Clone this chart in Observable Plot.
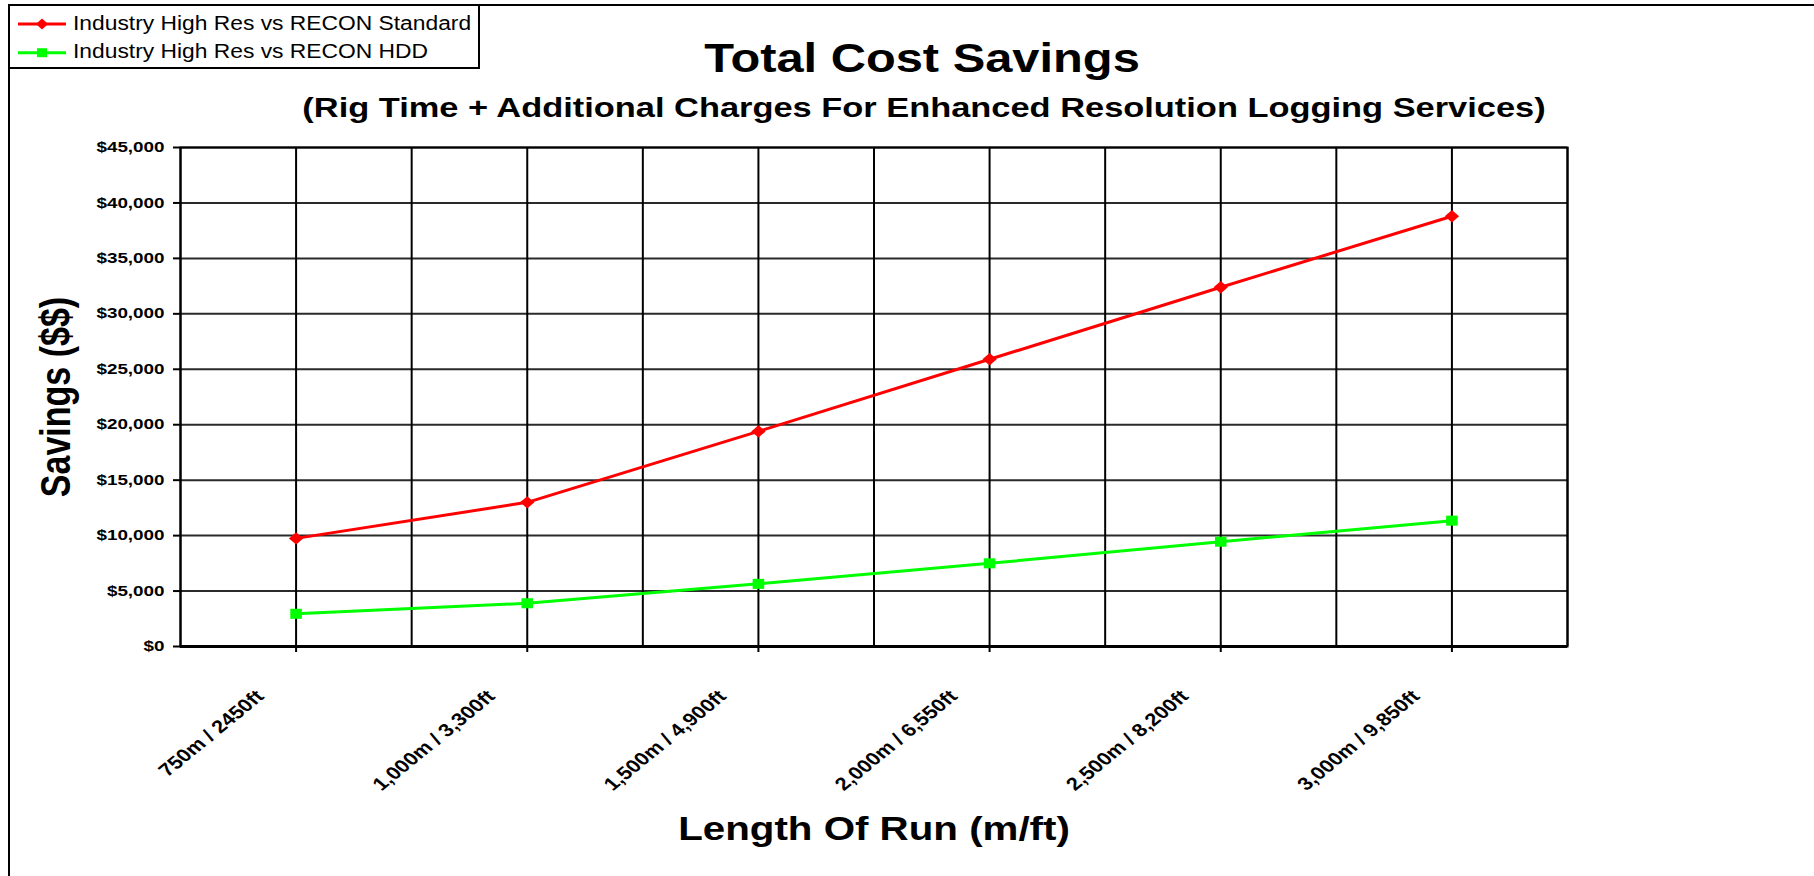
<!DOCTYPE html>
<html><head><meta charset="utf-8">
<script src="https://cdn.jsdelivr.net/npm/d3@7"></script>
<script src="https://cdn.jsdelivr.net/npm/@observablehq/plot@0.6"></script>
<style>
html,body{margin:0;padding:0;background:#fff;}
body{width:1814px;height:876px;position:relative;overflow:hidden;font-family:"Liberation Sans",Arial,sans-serif;}
#chart{position:absolute;left:0;top:0;}
.t{position:absolute;white-space:nowrap;line-height:1;color:#000;}
.b{font-weight:bold;}
</style></head><body>
<div id="chart"></div>
<script>
// ---- data ----
const categories = ["750m / 2450ft", "1,000m / 3,300ft", "1,500m / 4,900ft", "2,000m / 6,550ft", "2,500m / 8,200ft", "3,000m / 9,850ft"];
const seriesNames = ["Industry High Res vs RECON Standard", "Industry High Res vs RECON HDD"];
const standardValues = [9750, 13000, 19400, 25900, 32400, 38800];
const hddValues = [2950, 3900, 5650, 7500, 9450, 11350];
const yTicks = [0, 5000, 10000, 15000, 20000, 25000, 30000, 35000, 40000, 45000];
const seriesColors = ["#ff0000", "#00ff00"];
const titleText = "Total Cost Savings";
const subtitleText = "(Rig Time + Additional Charges For Enhanced Resolution Logging Services)";
const xTitleText = "Length Of Run (m/ft)";
const yTitleText = "Savings ($$)";

// ---- build table ----
const rows = [];
categories.forEach((c, i) => {
  rows.push({i, cat: c, v: standardValues[i], s: seriesNames[0]});
  rows.push({i, cat: c, v: hddValues[i], s: seriesNames[1]});
});
const idx = d3.range(categories.length);
const gridX = d3.range(-0.5, categories.length, 0.5);

const svg = Plot.plot({
  width: 1814, height: 876,
  marginLeft: 180, marginRight: 247, marginTop: 147, marginBottom: 230,
  style: {fontFamily: '"Liberation Sans", Arial, sans-serif', color: "#000", background: "transparent", overflow: "visible"},
  x: {type: "linear", domain: [-0.5, categories.length - 0.5]},
  y: {domain: [0, 45000]},
  color: {domain: seriesNames, range: seriesColors},
  marks: [
    Plot.ruleY(yTicks, {stroke: "#2a2a2a", strokeWidth: 2}),
    Plot.ruleX(gridX, {stroke: "#000", strokeWidth: 2}),
    Plot.frame({stroke: "#000", strokeWidth: 2}),
    Plot.ruleY([0], {stroke: "#000", strokeWidth: 3}),
    Plot.axisY({ticks: yTicks, tickFormat: d3.format("$,"), tickSize: 7, tickPadding: 9, fontSize: 14.5, fontWeight: "bold", strokeWidth: 2, label: null}),
    Plot.axisX({ticks: idx, tickSize: 6, strokeWidth: 2, fill: "none", label: null}),
    Plot.axisX({ticks: idx, tickFormat: i => categories[i], tickSize: 6, tickPadding: 41, stroke: "none",
      tickRotate: -45, textAnchor: "end", lineAnchor: "middle", dx: -36, fontSize: 18, fontWeight: "bold", label: null}),
    Plot.line(rows, {x: "i", y: "v", z: "s", stroke: "s", strokeWidth: 3}),
    Plot.dot(rows.filter(d => d.s === seriesNames[0]), {x: "i", y: "v", symbol: "diamond2", r: 5.6, fill: seriesColors[0]}),
    Plot.dot(rows.filter(d => d.s === seriesNames[1]), {x: "i", y: "v", symbol: "square2", r: 6.4, fill: seriesColors[1]})
  ]
});

function stretch(t, s) {
  let tr = t.getAttribute("transform") || "";
  if (tr.includes("rotate")) tr = tr.replace("rotate", `scale(${s},1) rotate`);
  else tr = tr + ` scale(${s},1)`;
  t.setAttribute("transform", tr.trim());
}
svg.querySelectorAll('g[aria-label="y-axis tick label"] text').forEach(t => stretch(t, 1.3));
svg.querySelectorAll('g[aria-label="x-axis tick label"] text').forEach(t => stretch(t, 1.22));
svg.querySelectorAll('g[aria-label="dot"] path').forEach(p => {
  const tr = p.getAttribute("transform");
  if (tr) p.setAttribute("transform", tr + " scale(1.15,1)");
});
document.getElementById("chart").appendChild(svg);

// ---- overlay texts ----
function addText(txt, cls, css) {
  const d = document.createElement("div");
  d.className = "t " + cls;
  d.textContent = txt;
  Object.assign(d.style, css);
  document.body.appendChild(d);
  return d;
}
// outer chart border
const border = document.createElement("div");
Object.assign(border.style, {position: "absolute", left: "8px", top: "4px", width: "1900px", height: "1000px", borderLeft: "2px solid #000", borderTop: "2px solid #000"});
document.body.appendChild(border);

addText(titleText, "b", {fontSize: "41px", left: "922px", top: "38px", transform: "translateX(-50%) scaleX(1.19)"});
addText(subtitleText, "b", {fontSize: "27px", left: "924px", top: "94.8px", transform: "translateX(-50%) scaleX(1.274)"});
addText(xTitleText, "b", {fontSize: "32.5px", left: "873.5px", top: "812.5px", transform: "translateX(-50%) scaleX(1.24)"});
addText(yTitleText, "b", {fontSize: "34px", left: "55.4px", top: "396.5px", transform: "translate(-50%,-50%) scaleX(1.24) rotate(-90deg)"});

// legend
const lg = document.createElement("div");
Object.assign(lg.style, {position: "absolute", left: "8px", top: "4px", width: "472px", height: "65px", border: "2px solid #000", boxSizing: "border-box", background: "#fff"});
document.body.appendChild(lg);
const ns = "http://www.w3.org/2000/svg";
const sw = document.createElementNS(ns, "svg");
sw.setAttribute("width", 80); sw.setAttribute("height", 70);
Object.assign(sw.style, {position: "absolute", left: "0px", top: "0px"});
const rowsY = [24, 52.7];
seriesNames.forEach((n, k) => {
  const y = rowsY[k];
  const ln = document.createElementNS(ns, "line");
  ln.setAttribute("x1", 18); ln.setAttribute("x2", 66); ln.setAttribute("y1", y); ln.setAttribute("y2", y);
  ln.setAttribute("stroke", seriesColors[k]); ln.setAttribute("stroke-width", 3);
  sw.appendChild(ln);
  const p = document.createElementNS(ns, "path");
  p.setAttribute("d", k === 0 ? `M42,${y-5.5}L48,${y}L42,${y+5.5}L36,${y}Z` : `M37,${y-4.5}h10v9h-10Z`);
  p.setAttribute("fill", seriesColors[k]);
  sw.appendChild(p);
  addText(n, "", {fontSize: "19.5px", left: "72.7px", top: (k === 0 ? 13.5 : 42.2) + "px", transform: "scaleX(1.17)", transformOrigin: "left center"});
});
document.body.appendChild(sw);
</script>
</body></html>
